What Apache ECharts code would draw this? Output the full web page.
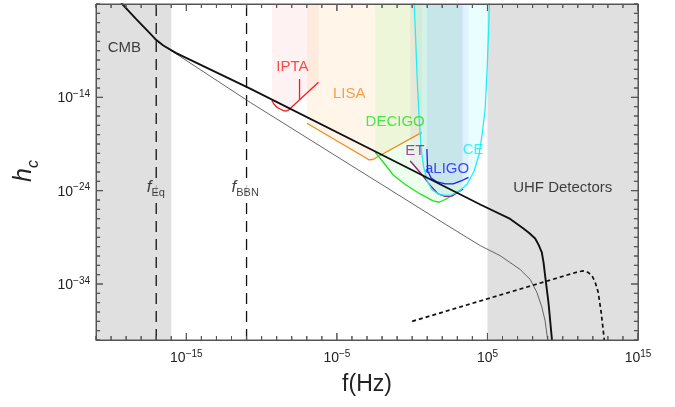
<!DOCTYPE html>
<html><head><meta charset="utf-8">
<script src="https://cdn.jsdelivr.net/npm/echarts@6/dist/echarts.min.js"></script>
<style>html,body{margin:0;padding:0;background:#fff}#c{width:675px;height:407px}</style>
</head><body><div id="c"></div>
<script>
// All values are log10 exponents: x = log10(f / Hz), y = log10(h_c)
const xMajorTicks = [-15, -5, 5, 15];
const yMajorTicks = [-34, -24, -14];
const cmbBand = [-21, -16];
const uhfBand = [5, 15];
const fEq = -17;
const fBBN = -11;

const mainThick = [[-19.32,-3.9],[-18.33,-5.62],[-17.46,-7.06],[-16.99,-7.87],[-16.53,-8.45],[-15.67,-9.26],[-10.76,-13.06],[-2.12,-20.07],[4.52,-25.48],[6.51,-27.03],[7.39,-28.05],[7.77,-28.53],[8.17,-29.12],[8.40,-29.81],[8.61,-30.6],[8.73,-31.74],[8.83,-33.1],[9.05,-35.95],[9.28,-39.88],[9.33,-40.95]];
const mainThin = [[-19.32,-3.9],[-18.33,-5.62],[-17.46,-7.06],[-16.99,-7.95],[-10.76,-14.54],[1.64,-27.03],[4.52,-29.89],[5.84,-30.96],[7.17,-32.44],[7.84,-33.51],[8.28,-34.88],[8.61,-36.45],[8.83,-37.95],[8.99,-39.88],[9.04,-40.95]];
const dashedSignal = [[0,-38.0],[10.49,-32.94],[11.02,-32.70],[11.35,-32.6],[11.69,-32.76],[11.95,-33.13],[12.15,-33.78],[12.35,-34.85],[12.55,-36.99],[12.68,-38.81],[12.75,-39.88],[12.8,-41]];

const iptaCurve = [[-9.32,-14.36],[-9.16,-14.77],[-8.98,-15.07],[-8.77,-15.25],[-8.55,-15.43],[-8.40,-15.47],[-8.21,-15.36],[-6.22,-12.39]];
const iptaTick = [[-7.48,-14.25],[-7.48,-12.04]];
const lisaCurve = [[-6.99,-16.78],[-3.12,-20.45],[-2.86,-20.71],[-2.59,-20.66],[-2.32,-20.39],[0.64,-17.75]];
const decigoCurve = [[-2.46,-19.89],[-1.93,-20.93],[-1.26,-22.32],[-0.46,-23.34],[0.53,-24.35],[1.39,-25.10],[1.79,-25.24],[2.26,-24.89],[3.32,-23.82]];
const etCurve = [[-0.13,-20.82],[0.53,-22.05],[1.20,-23.44],[1.73,-24.35],[2.19,-24.62],[2.66,-24.57],[3.39,-23.82]];
const aligoCurve = [[0.976,-19.53],[1.03,-21.89],[1.26,-22.64],[1.66,-23.07],[2.19,-23.28],[2.72,-23.28],[3.25,-22.96],[3.74,-22.57]];
const ceCurve = [[0.133,-3.9],[0.232,-7.76],[0.332,-12.04],[0.465,-16.32],[0.598,-19.54],[0.764,-21.46],[0.996,-22.96],[1.328,-23.93],[1.86,-24.46],[2.53,-24.51],[3.06,-24.14],[3.66,-23.28],[4.12,-21.89],[4.45,-20.07],[4.65,-17.93],[4.85,-15.25],[4.98,-10.97],[5.08,-6.69],[5.13,-3.9]];

const labelNames = ['CMB','IPTA','LISA','DECIGO','ET','aLIGO','CE','UHF Detectors','fEq','fBBN'];
const labelPos = [[-19.12,-8.72],[-7.96,-10.76],[-4.18,-13.59],[-1.13,-16.59],[0.17,-19.72],[2.32,-21.68],[4.05,-19.64],[10.0,-23.71],[-17.03,-23.8],[-11.09,-23.8]];

const X_MIN = -21, X_MAX = 15, Y_MIN = -40, Y_MAX = -4;
const FONT = '"Liberation Sans", Arial, Helvetica, sans-serif';
const AX = '#555';
const sup = v => `{b|10}{s|${v < 0 ? '\u2212' : ''}${Math.abs(v)}}`;
const tickRich = {
  b: {fontSize: 14, color: '#222', fontFamily: FONT, verticalAlign: 'bottom'},
  s: {fontSize: 10, color: '#222', fontFamily: FONT, verticalAlign: 'bottom', padding: [0, 0, 6, 0]}
};

// frame axes (grid 0): frame lines, drawn on upper layer
function frameAxis(kind, pos) {
  const isX = kind === 'x';
  return {type: 'value', gridIndex: 0, position: pos, zlevel: 1,
    min: isX ? X_MIN : Y_MIN, max: isX ? X_MAX : Y_MAX, interval: 1,
    axisLine: {show: true, onZero: false, lineStyle: {color: AX, width: 1}},
    axisTick: {show: false}, axisLabel: {show: false}, splitLine: {show: false}};
}
// label axes (grid 1): only the 10^n labels
function labelAxis(kind, pos) {
  const isX = kind === 'x';
  const majors = isX ? xMajorTicks : yMajorTicks;
  return {type: 'value', gridIndex: 1, position: pos, zlevel: 1,
    min: isX ? X_MIN : Y_MIN, max: isX ? X_MAX : Y_MAX, interval: 1,
    axisLine: {show: false, onZero: false}, axisTick: {show: false},
    axisLabel: {show: true, margin: isX ? 9 : 6, rich: tickRich, showMinLabel: true, showMaxLabel: true,
      formatter: v => majors.indexOf(Math.round(v)) >= 0 ? sup(Math.round(v)) : ''},
    splitLine: {show: false}};
}
const xAxes = [frameAxis('x','bottom'), frameAxis('x','top'), labelAxis('x','bottom')];
const yAxes = [frameAxis('y','left'), frameAxis('y','right'), labelAxis('y','left')];
Object.assign(xAxes[2], {name: 'f(Hz)', nameLocation: 'middle', nameGap: 33,
  nameTextStyle: {fontSize: 23, color: '#222', fontFamily: FONT}});

// inward ticks every decade on all four frame sides (longer at the labelled decades)
const X_LONG = 0.75, X_SHORT = 0.43;   // tick lengths along y for the x-axis ticks (7px / 4px)
const Y_LONG = 0.465, Y_SHORT = 0.27;  // tick lengths along x for the y-axis ticks
function tickPath(side) {
  const pts = [];
  if (side === 'bottom' || side === 'top') {
    const y0 = side === 'bottom' ? Y_MIN : Y_MAX, dir = side === 'bottom' ? 1 : -1;
    for (let v = X_MIN; v <= X_MAX; v++) {
      const L = xMajorTicks.indexOf(v) >= 0 ? X_LONG : X_SHORT;
      pts.push([v, y0], [v, y0 + dir * L], [v, y0]);
    }
  } else {
    const x0 = side === 'left' ? X_MIN : X_MAX, dir = side === 'left' ? 1 : -1;
    for (let v = Y_MIN; v <= Y_MAX; v++) {
      const L = yMajorTicks.indexOf(v) >= 0 ? Y_LONG : Y_SHORT;
      pts.push([x0, v], [x0 + dir * L, v], [x0, v]);
    }
  }
  return {type: 'line', data: pts, symbol: 'none', silent: true, z: 20, clip: false,
    lineStyle: {color: AX, width: 1}};
}

function band(range) {
  return {type: 'line', data: [[range[0], Y_MAX], [range[1], Y_MAX]], symbol: 'none', silent: true, z: 1,
    lineStyle: {width: 0, opacity: 0}, areaStyle: {origin: 'start', color: '#e0e0e0', opacity: 1}};
}
function vline(x) {
  return {type: 'line', data: [[x, Y_MIN], [x, Y_MAX]], symbol: 'none', silent: true, z: 4,
    lineStyle: {color: '#111', type: [11, 7], width: 1.3}};
}
function det(data, color, fill) {
  return {type: 'line', data, symbol: 'none', silent: true, z: 3,
    lineStyle: {color, width: 1.3}, areaStyle: {origin: 'end', color: fill}};
}

const labelColors = {CMB:'#111', IPTA:'#ff1a1a', LISA:'#f7891e', DECIGO:'#1ee21e', ET:'#8c1a8c', aLIGO:'#1a1aff', CE:'#1ae8f5', 'UHF Detectors':'#111', fEq:'#111', fBBN:'#111'};
const labelData = labelNames.map((n, i) => {
  let text = n, bg = 'transparent';
  if (n === 'fEq') { text = '{f|f}{sub|Eq}'; bg = '#e0e0e0'; }
  if (n === 'fBBN') { text = '{f|f}{sub|BBN}'; bg = '#ffffff'; }
  return {value: labelPos[i], text, label: {color: labelColors[n], backgroundColor: bg}};
});

const gridRect = {left: 96, right: 37, top: 4, bottom: 67};
const option = {
  animation: false,
  grid: [Object.assign({}, gridRect), Object.assign({}, gridRect)],
  xAxis: xAxes,
  yAxis: yAxes,
  graphic: [{
    type: 'text', x: 27, y: 171, rotation: Math.PI / 2, z: 50,
    style: {text: '{h|h}{c|c}', align: 'center', verticalAlign: 'middle',
      rich: {
        h: {fontSize: 25, fontStyle: 'italic', fill: '#222', fontFamily: FONT, verticalAlign: 'bottom', padding: [0, 0, 5, 0]},
        c: {fontSize: 16, fontStyle: 'italic', fill: '#222', fontFamily: FONT, verticalAlign: 'bottom'}
      }}
  }],
  series: [
    band(cmbBand), band(uhfBand),
    det(iptaCurve, '#ff1a1a', 'rgba(255,0,0,0.07)'),
    {type: 'line', data: iptaTick, symbol: 'none', silent: true, z: 3, lineStyle: {color: '#ff1a1a', width: 1.3}},
    det(lisaCurve, '#f08a1e', 'rgba(255,140,0,0.12)'),
    det(decigoCurve, '#22e022', 'rgba(0,255,0,0.10)'),
    det(etCurve, '#8c1a8c', 'rgba(128,0,128,0.08)'),
    det(aligoCurve, '#1a1aff', 'rgba(0,0,255,0.08)'),
    det(ceCurve, '#22eef5', 'rgba(0,255,255,0.12)'),
    vline(fEq), vline(fBBN),
    {type: 'line', data: mainThin, symbol: 'none', silent: true, z: 5,
      lineStyle: {color: '#555', width: 0.9}},
    {type: 'line', data: mainThick, symbol: 'none', silent: true, z: 6,
      lineStyle: {color: '#111', width: 1.9, join: 'round'}},
    {type: 'line', data: dashedSignal, symbol: 'none', silent: true, z: 6,
      lineStyle: {color: '#111', width: 1.7, type: [4, 3]}},
    {type: 'scatter', data: labelData, symbolSize: 0, silent: true, z: 10,
      label: {show: true, position: 'inside', fontSize: 15, fontFamily: FONT,
        formatter: p => p.data.text,
        rich: {
          f: {fontSize: 17, fontStyle: 'italic', fontFamily: FONT, color: '#111', verticalAlign: 'bottom', padding: [0, 0, 3, 0]},
          sub: {fontSize: 11, fontFamily: FONT, color: '#111', verticalAlign: 'bottom'}
        }}},
    tickPath('bottom'), tickPath('top'), tickPath('left'), tickPath('right')
  ]
};
const chart = echarts.init(document.getElementById('c'));
chart.setOption(option);
</script></body></html>
